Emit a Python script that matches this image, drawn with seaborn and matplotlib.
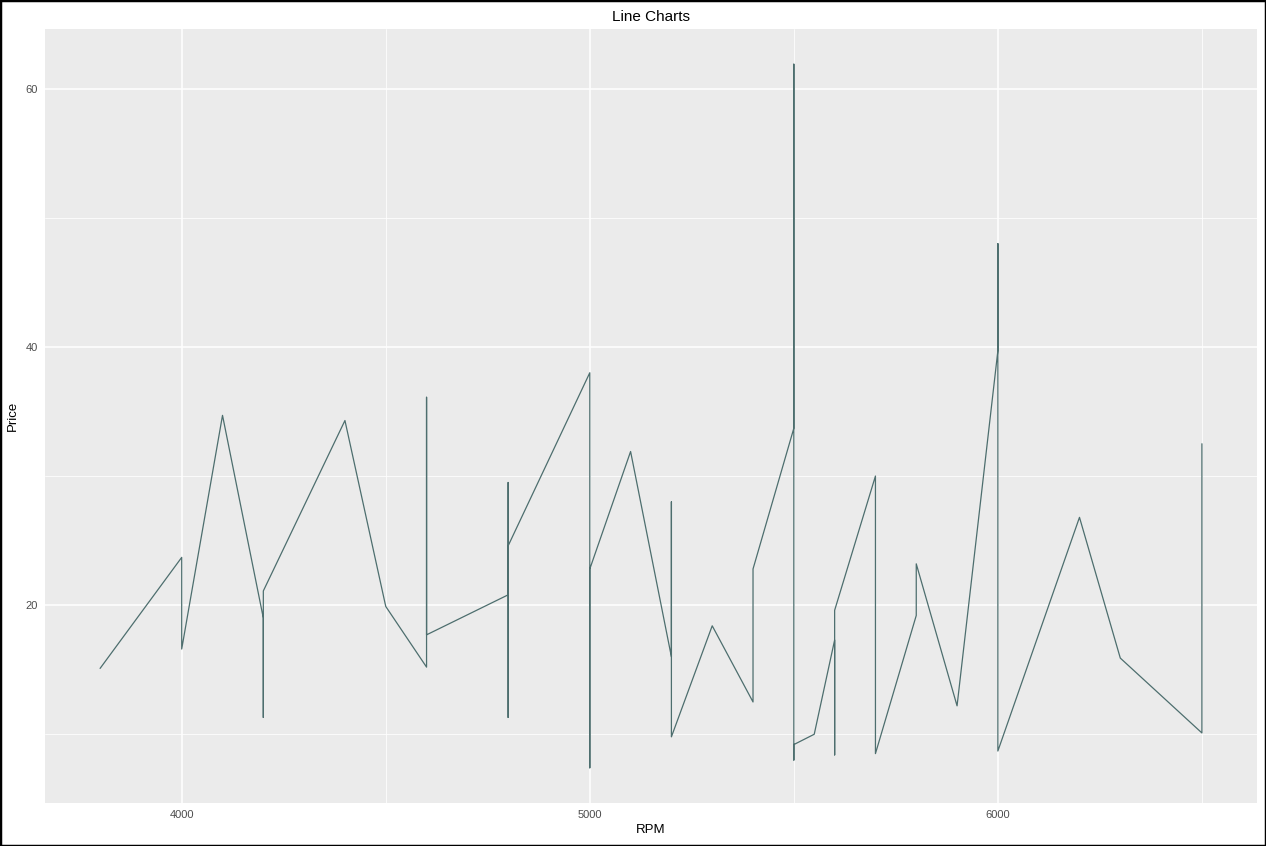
import matplotlib
matplotlib.use("Agg")
import matplotlib.pyplot as plt
from matplotlib.patches import Rectangle
from matplotlib.ticker import MultipleLocator
import seaborn as sns
import pandas as pd

# Values (RPM vs Price, in drawing order)
rpm = [3800, 4000, 4000, 4100, 4200, 4200, 4200, 4400, 4500, 4600, 4600, 4600,
       4800, 4800, 4800, 4800, 5000, 5000, 5000, 5100, 5200, 5200, 5200, 5300,
       5400, 5400, 5500, 5500, 5500, 5500, 5550, 5600, 5600, 5600, 5700, 5700,
       5800, 5800, 5900, 6000, 6000, 6000, 6200, 6300, 6500, 6500]
price = [15.1, 23.7, 16.6, 34.7, 19.0, 11.3, 21.1, 34.3, 19.9, 15.2, 36.1, 17.7,
         20.8, 29.5, 11.3, 24.6, 38.0, 7.4, 22.8, 31.9, 16.0, 28.0, 9.8, 18.4,
         12.5, 22.8, 33.7, 61.9, 8.0, 9.2, 10.0, 17.3, 8.4, 19.6, 30.0, 8.5,
         19.2, 23.2, 12.2, 39.7, 48.0, 8.7, 26.8, 15.9, 10.1, 32.5]
x_ticks = [4000, 5000, 6000]
y_ticks = [20, 40, 60]

df = pd.DataFrame({"RPM": rpm, "Price": price})

sns.set_theme(style="darkgrid")
plt.rcParams["font.family"] = ["Liberation Sans", "DejaVu Sans"]

fig = plt.figure(figsize=(12.66, 8.46), dpi=100)
fig.patch.set_facecolor("white")
ax = fig.add_axes([45 / 1266, 1 - 803 / 846, (1257 - 45) / 1266, (803 - 29) / 846])
ax.set_facecolor("#EBEBEB")

sns.lineplot(data=df, x="RPM", y="Price", sort=False, estimator=None,
             color="#4d6e6e", linewidth=0.9, ax=ax)

xmin, xmax = min(rpm), max(rpm)
ymin, ymax = min(price), max(price)
xr, yr = xmax - xmin, ymax - ymin
ax.set_xlim(xmin - 0.05 * xr, xmax + 0.05 * xr)
ax.set_ylim(ymin - 0.05 * yr, ymax + 0.05 * yr)

ax.set_xticks(x_ticks)
ax.set_yticks(y_ticks)
ax.xaxis.set_minor_locator(MultipleLocator(500))
ax.yaxis.set_minor_locator(MultipleLocator(10))
ax.grid(which="major", color="white", linewidth=1.1)
ax.grid(which="minor", color="white", linewidth=0.55)
ax.set_axisbelow(True)
for s in ax.spines.values():
    s.set_visible(False)

ax.tick_params(axis="both", which="major", length=2.7, width=0.6, color="#333333",
               labelsize=8, labelcolor="#4D4D4D", pad=2.5)
ax.tick_params(axis="both", which="minor", length=0)

ax.set_xlabel("RPM", fontsize=9.5, color="black", labelpad=3)
ax.set_ylabel("Price", fontsize=9.5, color="black", labelpad=5)
ax.set_title("Line Charts", fontsize=11, color="black", pad=6)

fig.patches.append(Rectangle((0, 0), 1, 1, transform=fig.transFigure,
                             fill=False, edgecolor="black", linewidth=2.5))

fig.savefig("out.png", dpi=100)
